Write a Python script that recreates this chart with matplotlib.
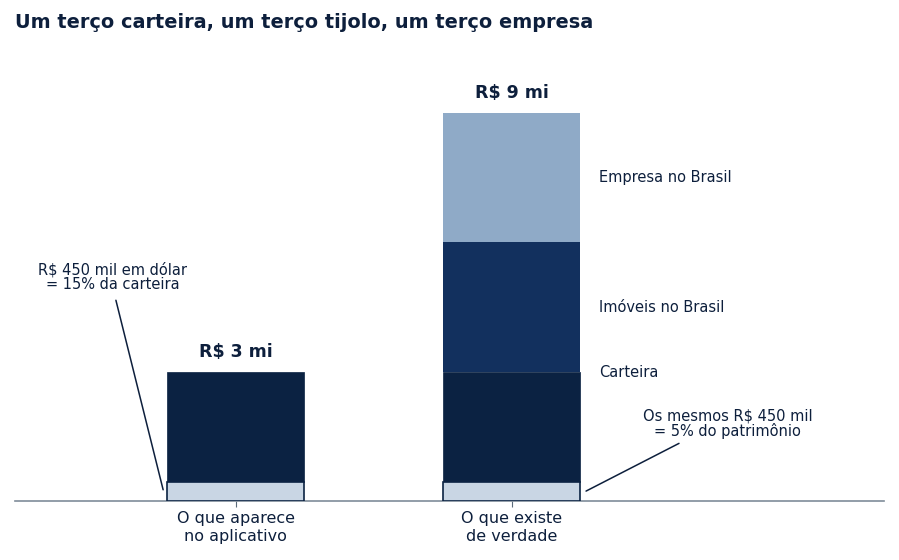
import matplotlib
matplotlib.use("Agg")
import matplotlib.pyplot as plt

plt.rcParams["font.family"] = ["DejaVu Sans"]

categories = ["O que aparece\nno aplicativo", "O que existe\nde verdade"]
dollar_part = [0.45, 0.45]
carteira_rest = [2.55, 2.55]
imoveis = [0, 3]
empresa = [0, 3]
totals_labels = ["R$ 3 mi", "R$ 9 mi"]
segment_labels = ["Carteira", "Imóveis no Brasil", "Empresa no Brasil"]
title = "Um terço carteira, um terço tijolo, um terço empresa"

NAVY_TXT = "#0d1f3c"
C_LIGHT = "#c9d6e4"
C_DARK = "#0b2242"
C_MID = "#12305e"
C_EMP = "#8faac7"

fig = plt.figure(figsize=(8.99, 5.6), dpi=100)
ax = fig.add_axes([15/899, 59/560, 869/899, 441/560])

x = [0, 1]
w = 0.496
ax.bar(x, dollar_part, width=w, color=C_LIGHT, edgecolor=C_DARK, linewidth=1.2, zorder=3)
b1 = list(dollar_part)
ax.bar(x, carteira_rest, width=w, bottom=b1, color=C_DARK, edgecolor=C_DARK, linewidth=0.5, zorder=2)
b2 = [a + b for a, b in zip(b1, carteira_rest)]
ax.bar([1], [imoveis[1]], width=w, bottom=[b2[1]], color=C_MID, linewidth=0, zorder=2)
b3 = [a + b for a, b in zip(b2, imoveis)]
ax.bar([1], [empresa[1]], width=w, bottom=[b3[1]], color=C_EMP, linewidth=0, zorder=2)
tops = [a + b for a, b in zip(b3, empresa)]

for xi, t, lab in zip(x, tops, totals_labels):
    ax.text(xi, t + 0.25, lab, ha="center", va="bottom", fontsize=12.5,
            fontweight="bold", color=NAVY_TXT)

lab_x = 1 + w / 2 + 0.07
ax.text(lab_x, b2[1] - 0.02, segment_labels[0], ha="left", va="center", fontsize=10.5, color=NAVY_TXT)
ax.text(lab_x, b2[1] + imoveis[1] / 2, segment_labels[1], ha="left", va="center", fontsize=10.5, color=NAVY_TXT)
ax.text(lab_x, b3[1] + empresa[1] / 2, segment_labels[2], ha="left", va="center", fontsize=10.5, color=NAVY_TXT)

ax.annotate("R$ 450 mil em dólar\n= 15% da carteira", xy=(-0.263, 0.26),
            xytext=(-0.447, 5.2), ha="center", va="center", fontsize=10.5,
            color=NAVY_TXT, linespacing=1.0,
            arrowprops=dict(arrowstyle="-", color=NAVY_TXT, lw=1.1,
                            shrinkA=4, shrinkB=0, relpos=(0.51, 0)))
ax.annotate("Os mesmos R$ 450 mil\n= 5% do patrimônio", xy=(1.27, 0.23),
            xytext=(1.783, 1.79), ha="center", va="center", fontsize=10.5,
            color=NAVY_TXT, linespacing=1.0,
            arrowprops=dict(arrowstyle="-", color=NAVY_TXT, lw=1.1,
                            shrinkA=2, shrinkB=0, relpos=(0.26, 0)))

ax.set_xlim(-0.8, 2.35)
ax.set_ylim(0, 10.23)
ax.set_xticks(x)
ax.set_xticklabels(categories, fontsize=11.5, color=NAVY_TXT, linespacing=1.25)
ax.tick_params(axis="x", length=4, color="#5a6a7a", pad=3)
ax.set_yticks([])
for s in ["top", "right", "left"]:
    ax.spines[s].set_visible(False)
ax.spines["bottom"].set_color("#7f8c99")
ax.spines["bottom"].set_linewidth(1.2)

fig.text(15/899, 1 - 23/560, title, ha="left", va="center", fontsize=13.9,
         fontweight="bold", color=NAVY_TXT)

fig.savefig("out.png", dpi=100)
